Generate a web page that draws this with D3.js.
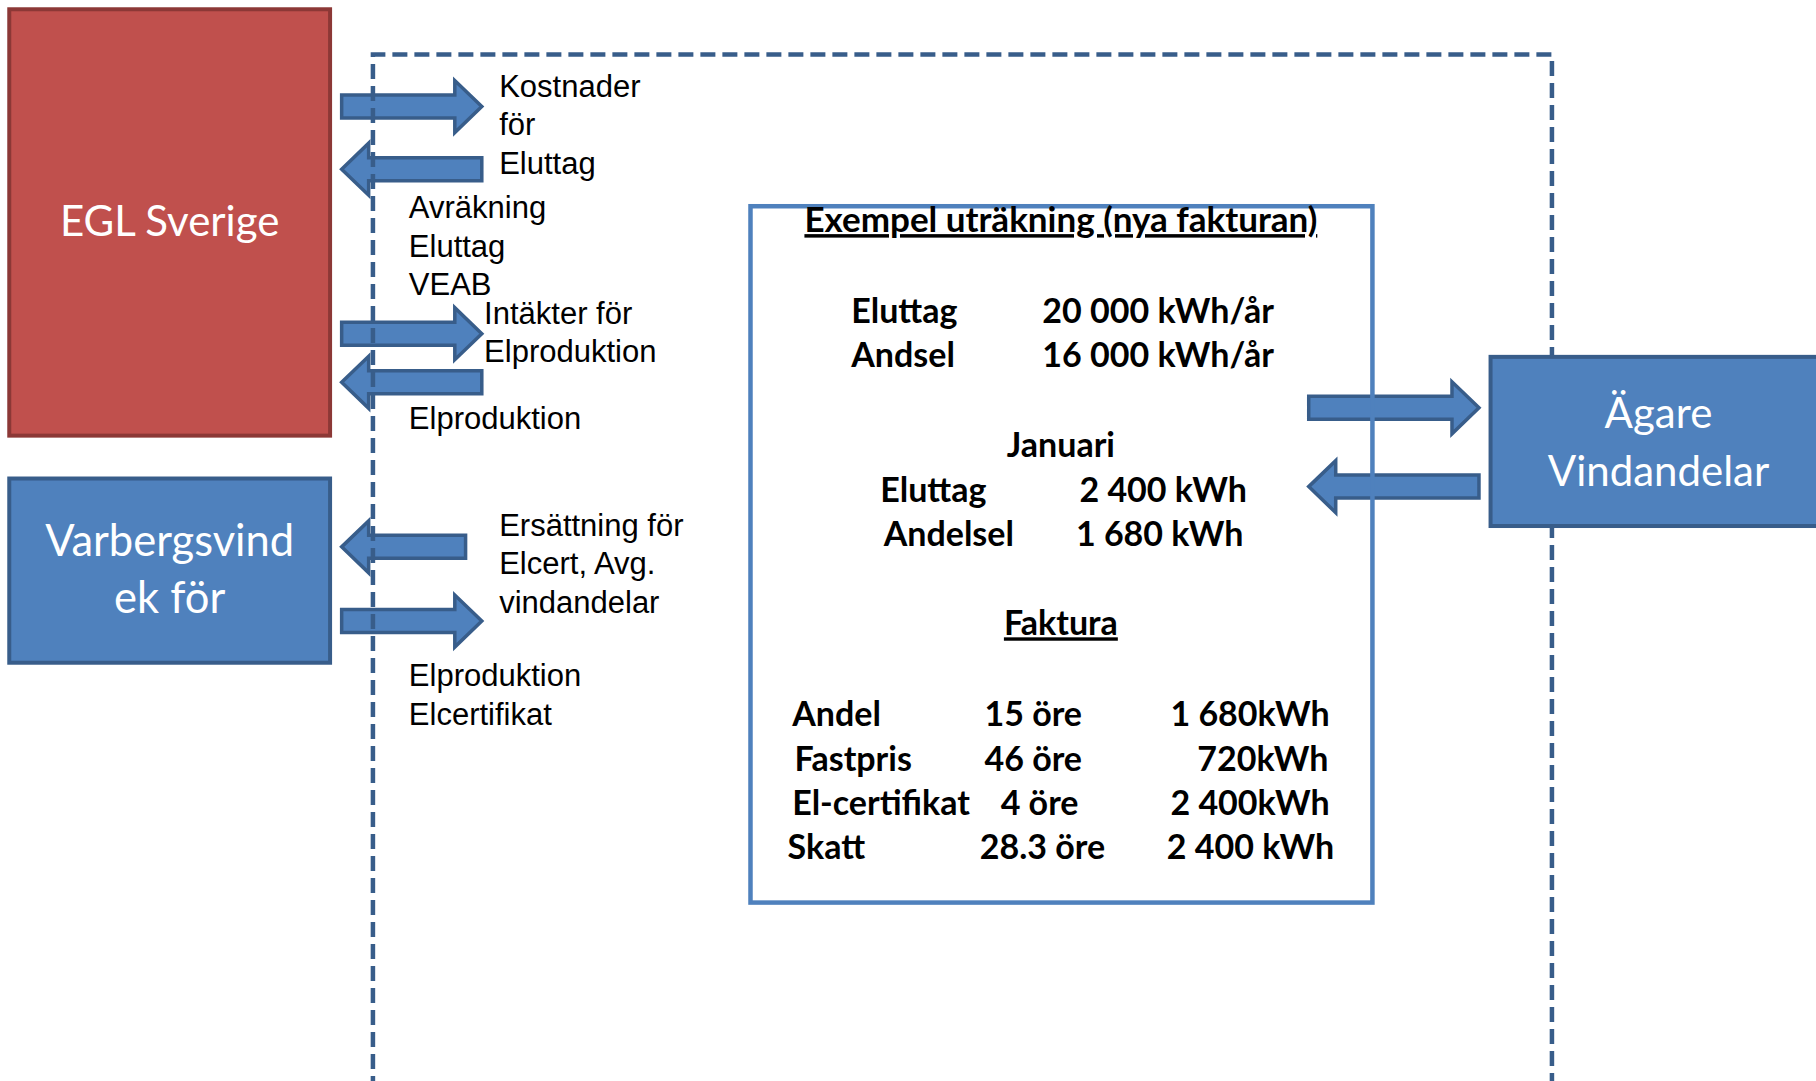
<!DOCTYPE html>
<html>
<head>
<meta charset="utf-8">
<script src="https://cdn.jsdelivr.net/npm/d3@7"></script>
<style>
  html, body { margin: 0; padding: 0; background: #fff; }
  svg { display: block; }
</style>
</head>
<body>
<script>
// values, in reference units (1568 wide picture)
let boxes = ["EGL Sverige", "Varbergsvind|ek för", "Ägare|Vindandelar"];
let boxColor = ["red", "blue", "blue"];
let arrowDir = ["right", "left", "right", "left", "left", "right", "right", "left"];
let flowLabels = [
  ["Kostnader", "för", "Eluttag"],
  ["Avräkning", "Eluttag", "VEAB"],
  ["Intäkter för", "Elproduktion"],
  ["Elproduktion"],
  ["Ersättning för", "Elcert, Avg.", "vindandelar"],
  ["Elproduktion", "Elcertifikat"]
];
let summaryRows = [["Eluttag", "20 000 kWh/år"], ["Andsel", "16 000 kWh/år"]];
let monthRows = [["Eluttag", "2 400 kWh"], ["Andelsel", "1 680 kWh"]];
let invoiceItems = ["Andel", "Fastpris", "El-certifikat", "Skatt"];
let invoicePrice = ["15 öre", "46 öre", "4 öre", "28.3 öre"];
let invoiceKwh = ["1 680kWh", "720kWh", "2 400kWh", "2 400 kWh"];

let W = 1816, H = 1081;
let x = d3.scaleLinear().domain([0, 1568]).range([0, W]);
let y = d3.scaleLinear().domain([0, 933]).range([0, H]);

let svg = d3.select("body").append("svg").attr("width", W).attr("height", H);

let red = "#C0504D", redDark = "#8C3836", blue = "#4F81BD", blueDark = "#385D8A";

// layout
let boxPos = [[8, 8, 285, 376], [8, 413, 285, 572], [1287, 308, 1575, 454]];
let arrowPos = [[295, 416, 92], [295, 416, 146], [295, 416, 288], [295, 416, 330],
                [295, 402, 472], [295, 416, 536], [1130, 1277, 352], [1130, 1277, 420]];
let labelPos = [[431, 74], [353, 179], [418, 270], [353, 361], [431, 453], [353, 583]];

// example box background
let ex = [648, 178, 1185, 779];
svg.append("rect")
  .attr("x", x(ex[0])).attr("y", y(ex[1]))
  .attr("width", x(ex[2]) - x(ex[0])).attr("height", y(ex[3]) - y(ex[1]))
  .attr("fill", "#fff");

// boxes (left ones)
let bg = svg.append("g");
[0, 1].forEach(i => {
  let p = boxPos[i];
  bg.append("rect")
    .attr("x", x(p[0])).attr("y", y(p[1]))
    .attr("width", x(p[2]) - x(p[0])).attr("height", y(p[3]) - y(p[1]))
    .attr("fill", boxColor[i] == "red" ? red : blue)
    .attr("stroke", boxColor[i] == "red" ? redDark : blueDark)
    .attr("stroke-width", 4);
  let lines = boxes[i].split("|");
  let cx = (x(p[0]) + x(p[2])) / 2;
  let cy = (y(p[1]) + y(p[3])) / 2;
  lines.forEach((t, k) => {
    bg.append("text")
      .attr("x", cx)
      .attr("y", cy + (k - (lines.length - 1) / 2) * 57 + 14)
      .attr("text-anchor", "middle")
      .attr("font-family", "Lato, 'Noto Sans', sans-serif")
      .attr("font-size", i == 1 ? 43.5 : 42)
      .attr("fill", "#fff")
      .text(t);
  });
});

// arrows
let shaft = 23, head = 52, headL = 27;
function arrowPath(a, dir) {
  let x0 = x(a[0]), x1 = x(a[1]), cy = y(a[2]);
  if (dir == "right") {
    let hb = x1 - headL;
    return "M" + x0 + "," + (cy - shaft / 2) + "L" + hb + "," + (cy - shaft / 2) +
      "L" + hb + "," + (cy - head / 2) + "L" + x1 + "," + cy + "L" + hb + "," + (cy + head / 2) +
      "L" + hb + "," + (cy + shaft / 2) + "L" + x0 + "," + (cy + shaft / 2) + "Z";
  }
  let hb = x0 + headL;
  return "M" + x1 + "," + (cy - shaft / 2) + "L" + hb + "," + (cy - shaft / 2) +
    "L" + hb + "," + (cy - head / 2) + "L" + x0 + "," + cy + "L" + hb + "," + (cy + head / 2) +
    "L" + hb + "," + (cy + shaft / 2) + "L" + x1 + "," + (cy + shaft / 2) + "Z";
}
svg.append("g").selectAll("path")
  .data(arrowPos)
  .enter().append("path")
  .attr("d", (d, i) => arrowPath(d, arrowDir[i]))
  .attr("fill", blue)
  .attr("stroke", blueDark)
  .attr("stroke-width", 3.5)
  .attr("stroke-linejoin", "miter");

// dashed frame
svg.append("path")
  .attr("d", "M" + x(322) + "," + (H + 10) + "L" + x(322) + "," + y(47) + "L" + x(1340) + "," + y(47) + "L" + x(1340) + "," + (H + 10))
  .attr("fill", "none")
  .attr("stroke", blueDark)
  .attr("stroke-width", 4.5)
  .attr("stroke-dasharray", "15,7");

// Ägare box sits over the frame
let p2 = boxPos[2];
svg.append("rect")
  .attr("x", x(p2[0])).attr("y", y(p2[1]))
  .attr("width", x(p2[2]) - x(p2[0])).attr("height", y(p2[3]) - y(p2[1]))
  .attr("fill", blue).attr("stroke", blueDark).attr("stroke-width", 4);
boxes[2].split("|").forEach((t, k) => {
  svg.append("text")
    .attr("x", x(1432)).attr("y", y(357) + k * 58 + 14)
    .attr("text-anchor", "middle")
    .attr("font-family", "Lato, 'Noto Sans', sans-serif")
    .attr("font-size", 42).attr("fill", "#fff").text(t);
});

// example box outline
svg.append("rect")
  .attr("x", x(ex[0])).attr("y", y(ex[1]))
  .attr("width", x(ex[2]) - x(ex[0])).attr("height", y(ex[3]) - y(ex[1]))
  .attr("fill", "none").attr("stroke", blue).attr("stroke-width", 4.5);

// flow labels
let lg = svg.append("g")
  .attr("font-family", "Arial, 'Liberation Sans', sans-serif")
  .attr("font-size", 31).attr("fill", "#000");
flowLabels.forEach((lines, i) => {
  lines.forEach((t, k) => {
    lg.append("text")
      .attr("x", x(labelPos[i][0]))
      .attr("y", y(labelPos[i][1]) + k * 38.5 + 11)
      .text(t);
  });
});

// example contents
let tg = svg.append("g")
  .attr("font-family", "Lato, 'Noto Sans', sans-serif")
  .attr("font-weight", "bold")
  .attr("font-size", 34).attr("fill", "#000");
function t(xx, yy, s, anchor, ul, fs) {
  tg.append("text").attr("x", x(xx)).attr("y", y(yy) + 12)
    .attr("text-anchor", anchor || "start")
    .attr("text-decoration", ul ? "underline" : null)
    .attr("font-size", fs || null)
    .text(s);
}
t(916, 190, "Exempel uträkning (nya fakturan)", "middle", true, 35);
summaryRows.forEach((r, i) => { t(735, 268 + i * 38, r[0]); t(900, 268 + i * 38, r[1]); });
t(916, 384, "Januari", "middle");
t(760, 423, monthRows[0][0]); t(932, 423, monthRows[0][1]);
t(763, 461, monthRows[1][0]); t(929, 461, monthRows[1][1]);
t(916, 538, "Faktura", "middle", true);
let rowY = [616, 655, 693, 731];
let itemX = [684, 686, 684, 680];
let priceX = [850, 850, 864, 846];
let kwhR = [1148, 1147, 1148, 1152];
invoiceItems.forEach((s, i) => {
  t(itemX[i], rowY[i], s);
  t(priceX[i], rowY[i], invoicePrice[i]);
  t(kwhR[i], rowY[i], invoiceKwh[i], "end");
});
</script>
</body>
</html>
